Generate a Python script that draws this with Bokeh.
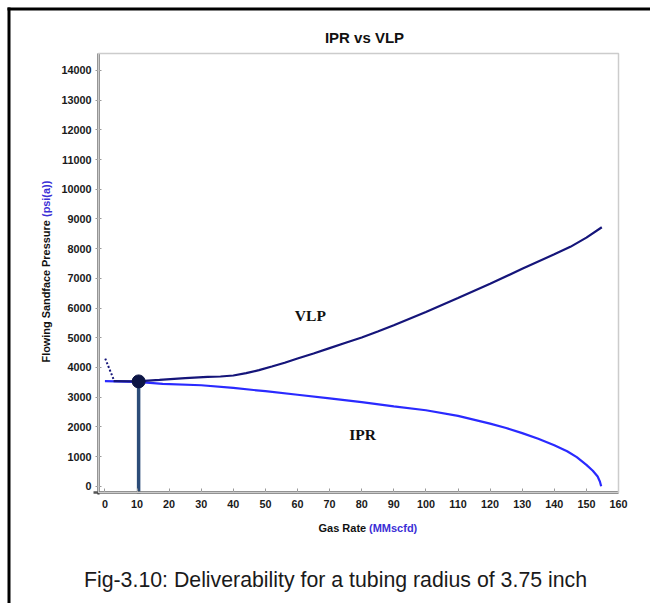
from math import pi
from bokeh.plotting import figure
from bokeh.models import (Range1d, FixedTicker, Label, BoxAnnotation, LinearAxis)
from bokeh.embed import file_html
from bokeh.resources import INLINE

# ---------------- data ----------------
ipr_rate = [0, 10, 18, 30, 40, 50, 60, 70, 80, 90, 100, 110, 120, 125, 130, 135, 140, 144, 147, 150, 152, 153.5, 154.2, 154.6]
ipr_pres = [3540, 3515, 3450, 3400, 3310, 3200, 3080, 2960, 2830, 2690, 2560, 2370, 2110, 1960, 1790, 1600, 1380, 1180, 980, 720, 520, 330, 160, 0]

vlp_rate = [2.7, 10, 17, 25, 32, 36, 40, 44, 48, 52, 56, 60, 65, 70, 75, 80, 85, 90, 100, 110, 120, 130, 140, 145, 150, 154.8]
vlp_pres = [3540, 3530, 3580, 3640, 3680, 3695, 3730, 3810, 3910, 4030, 4160, 4300, 4470, 4650, 4830, 5010, 5210, 5420, 5870, 6340, 6820, 7320, 7810, 8060, 8370, 8720]

dot_rate = [0.1, 2.7]
dot_pres = [4300, 3600]

op_rate = [10.5]
op_pres = [3530]

x_ticks = list(range(0, 161, 10))
y_ticks = list(range(0, 14001, 1000))

title_text = "IPR vs VLP"
xlab_black = "Gas Rate "
xlab_blue = "(MMscfd)"
ylab_black = "Flowing Sandface Pressure "
ylab_blue = "(psi(a))"
caption = "Fig-3.10: Deliverability for a tubing radius of 3.75 inch"

# ---------------- geometry (pixels of the plotting region inside the page) ----------------
W, H = 650, 603
FL, FR, FT, FB = 98, 618, 53, 492
XMIN, XMAX = -2, 160
YMIN, YMAX = -210, 14570
XS = (XMAX - XMIN) / (FR - FL)     # data units per pixel
YS = (YMAX - YMIN) / (FB - FT)


def px2x(px):
    return XMIN + (px - FL) * XS


def py2y(py):
    return YMIN + (FB - py) * YS


# frame covers the whole canvas; the axes are drawn at fixed data locations
p = figure(width=W, height=H, output_backend="svg", toolbar_location=None,
           x_range=Range1d(px2x(0), px2x(W)), y_range=Range1d(py2y(H), py2y(0)),
           x_axis_type=None, y_axis_type=None,
           min_border_left=0, min_border_right=0, min_border_top=0, min_border_bottom=0)
p.title.visible = False
p.background_fill_color = "white"
p.border_fill_color = "white"
p.outline_line_color = None
p.xgrid.visible = False
p.ygrid.visible = False

FONT = "Liberation Sans"

xax = LinearAxis(ticker=FixedTicker(ticks=x_ticks), fixed_location=YMIN, bounds=(XMIN - 1.5, XMAX))
yax = LinearAxis(ticker=FixedTicker(ticks=y_ticks), fixed_location=XMIN, bounds=(YMIN - 60, YMAX))
for ax in (xax, yax):
    ax.major_label_text_font = FONT
    ax.major_label_text_font_style = "bold"
    ax.major_label_text_font_size = "10.8px"
    ax.major_label_text_color = "#1a1a1a"
    ax.minor_tick_line_color = None
    ax.major_tick_line_color = "#9a9a9a"
    ax.major_tick_line_width = 1

xax.axis_line_color = "#555555"
xax.axis_line_width = 2.5
xax.major_tick_in = 4
xax.major_tick_out = 0
xax.major_label_standoff = 7

yax.axis_line_color = "#333333"
yax.axis_line_width = 2.2
yax.major_tick_in = 3
yax.major_tick_out = 3
yax.major_label_standoff = 4

p.add_layout(xax, "below")
p.add_layout(yax, "left")

# light outline of the plotting region
p.add_layout(BoxAnnotation(left=XMIN, right=XMAX, bottom=YMIN, top=YMAX,
                           fill_alpha=0, line_color="#cccccc", line_alpha=1, line_width=1.5))

# ---------------- outer black border: two filled strips (left and top), no strokes ----------------
p.add_layout(BoxAnnotation(left=px2x(7), right=px2x(10), top=py2y(7), bottom=py2y(H),
                           fill_color="black", fill_alpha=1, line_color=None))
p.add_layout(BoxAnnotation(left=px2x(7), right=px2x(W), top=py2y(7), bottom=py2y(10),
                           fill_color="black", fill_alpha=1, line_color=None))

# ---------------- curves ----------------
p.line(ipr_rate, ipr_pres, line_color="#2a2aff", line_width=2.2)
p.line(vlp_rate, vlp_pres, line_color="#15157a", line_width=2.2)
p.line(dot_rate, dot_pres, line_color="#15157a", line_width=2, line_dash="2 2")
p.segment(x0=op_rate, y0=op_pres, x1=op_rate, y1=[YMIN - 30] * len(op_rate),
          line_color="#2c4c78", line_width=3.5)
p.scatter(op_rate, op_pres, size=13, fill_color="#0c1545", line_color="#0c1545")

# ---------------- curve labels ----------------
p.add_layout(Label(x=64, y=5750, text="VLP", text_font="Liberation Serif",
                   text_font_style="bold", text_font_size="15.5px",
                   text_color="#111111", text_align="center", text_baseline="middle"))
p.add_layout(Label(x=80.3, y=1740, text="IPR", text_font="Liberation Serif",
                   text_font_style="bold", text_font_size="15.5px",
                   text_color="#111111", text_align="center", text_baseline="middle"))


def plabel(px, py, text, size, color="#111111", bold=True, align="left", angle=0.0):
    return Label(x=px2x(px), y=py2y(py), text=text,
                 text_font=FONT, text_font_style="bold" if bold else "normal",
                 text_font_size=size, text_color=color, text_align=align,
                 text_baseline="middle", angle=angle)


# ---------------- title, axis labels, caption ----------------
p.add_layout(plabel(364, 37, title_text, "15px", align="center"))
p.add_layout(plabel(318, 527, xlab_black, "11px"))
p.add_layout(plabel(368.5, 527, xlab_blue, "11px", color="#3b2fd6"))
p.add_layout(plabel(45, 362, ylab_black, "10.9px", angle=pi / 2))
p.add_layout(plabel(45, 216.5, ylab_blue, "10.9px", color="#3b2fd6", angle=pi / 2))
p.add_layout(plabel(335, 579, caption, "21.3px", color="#1a1a1a", bold=False, align="center"))

open("out.html", "w").write(file_html(p, INLINE))
